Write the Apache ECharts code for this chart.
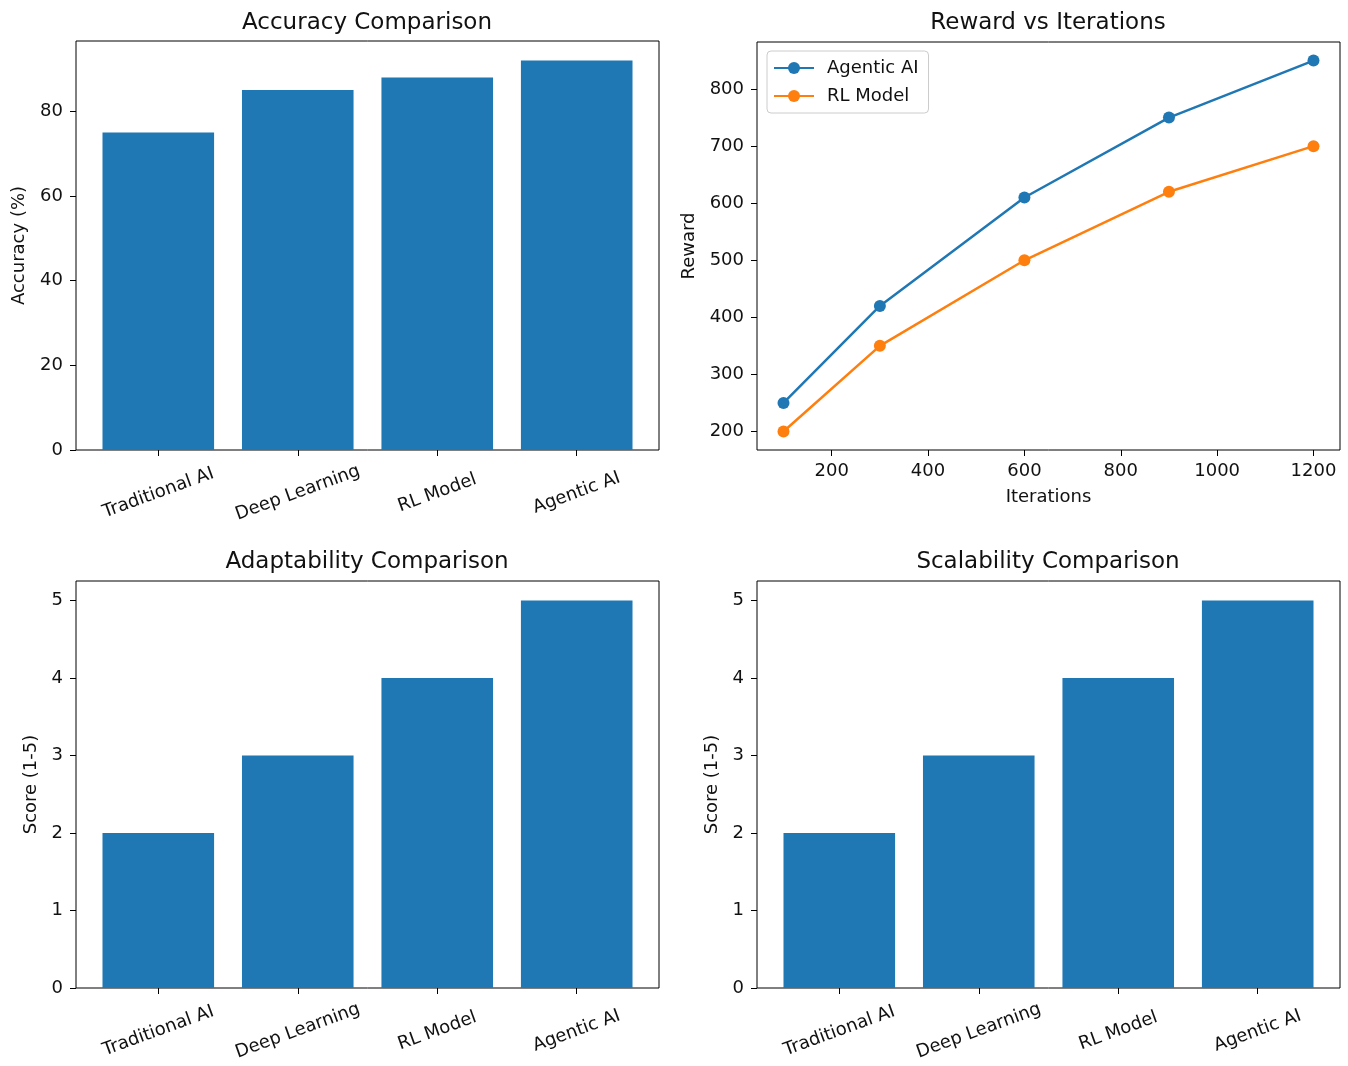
<!DOCTYPE html>
<html><head><meta charset="utf-8">
<script src="https://cdn.jsdelivr.net/npm/echarts@6/dist/echarts.min.js"></script>
<style>html,body{margin:0;padding:0;background:#fff}#c{width:1348px;height:1066px}</style>
</head><body><div id="c"></div>
<script>
// ---- data ----
const categories = ['Traditional AI', 'Deep Learning', 'RL Model', 'Agentic AI'];
const accuracy = [75, 85, 88, 92];
const adaptability = [2, 3, 4, 5];
const scalability = [2, 3, 4, 5];
const iterations = [100, 300, 600, 900, 1200];
const rewardAgentic = [250, 420, 610, 750, 850];
const rewardRL = [200, 350, 500, 620, 700];
const accuracyTicks = [0, 20, 40, 60, 80];
const scoreTicks = [0, 1, 2, 3, 4, 5];
const iterTicks = [200, 400, 600, 800, 1000, 1200];
const rewardTicks = [200, 300, 400, 500, 600, 700, 800];
const catTicks = categories.map((c, i) => i);

// ---- styles ----
const FONT = 'DejaVu Sans';
const BLUE = '#1f77b4', ORANGE = '#ff7f0e';
const TXT = '#111111';
const tickFont = 18;

const grids = [
  {left: 76, top: 41, width: 583, height: 409},
  {left: 757, top: 42, width: 583, height: 408},
  {left: 76, top: 581, width: 583, height: 407},
  {left: 757, top: 581, width: 583, height: 407}
].map(g => Object.assign(g, {show: true, borderColor: '#000', borderWidth: 1, backgroundColor: '#fff'}));

function pad(lo, hi) { const m = (hi - lo) * 0.05; return [lo - m, hi + m]; }

const tickStyle = {show: true, length: 6, inside: false, lineStyle: {color: '#000', width: 1}};
const plain = v => String(Math.round(v * 1000) / 1000);

function valueAxisY(gi, min, max, ticks, name, gap) {
  return {
    gridIndex: gi, type: 'value', min: min, max: max,
    axisLine: {show: false, onZero: false}, splitLine: {show: false},
    axisTick: Object.assign({customValues: ticks}, tickStyle),
    axisLabel: {customValues: ticks, formatter: plain, fontFamily: FONT, fontSize: tickFont, color: TXT, margin: 13},
    name: name, nameLocation: 'middle', nameGap: gap,
    nameTextStyle: {fontFamily: FONT, fontSize: tickFont, color: TXT}
  };
}
function catAxisX(gi) {
  const ext = pad(-0.4, categories.length - 1 + 0.4);
  return {
    gridIndex: gi, type: 'value', min: ext[0], max: ext[1],
    axisLine: {show: false, onZero: false}, splitLine: {show: false},
    axisTick: Object.assign({customValues: catTicks}, tickStyle),
    axisLabel: {customValues: catTicks, formatter: v => categories[Math.round(v)] || '',
      rotate: 20, align: 'center', verticalAlign: 'middle', margin: 43,
      fontFamily: FONT, fontSize: tickFont, color: TXT}
  };
}
function barSeries(gi, values) {
  return {type: 'bar', xAxisIndex: gi, yAxisIndex: gi,
    data: values.map((v, i) => [i, v]), barCategoryGap: '20%',
    itemStyle: {color: BLUE}, silent: true};
}

const accExt = [0, Math.max(...accuracy) * 1.05];
const adaExt = [0, Math.max(...adaptability) * 1.05];
const scaExt = [0, Math.max(...scalability) * 1.05];
const iterExt = pad(Math.min(...iterations), Math.max(...iterations));
const rewExt = pad(Math.min(...rewardRL, ...rewardAgentic), Math.max(...rewardRL, ...rewardAgentic));

const titleStyle = {fontFamily: FONT, fontSize: 23, fontWeight: 'normal', color: TXT};

const option = {
  animation: false,
  backgroundColor: '#fff',
  title: [
    {text: 'Accuracy Comparison', left: 367, top: 12, padding: 0, textAlign: 'center', textStyle: titleStyle},
    {text: 'Reward vs Iterations', left: 1048, top: 12, padding: 0, textAlign: 'center', textStyle: titleStyle},
    {text: 'Adaptability Comparison', left: 367, top: 551, padding: 0, textAlign: 'center', textStyle: titleStyle},
    {text: 'Scalability Comparison', left: 1048, top: 551, padding: 0, textAlign: 'center', textStyle: titleStyle}
  ],
  grid: grids,
  legend: {
    left: 767, top: 51, orient: 'vertical',
    data: ['Agentic AI', 'RL Model'],
    itemWidth: 40, itemHeight: 15, itemGap: 10,
    padding: [8, 10, 8, 6],
    borderColor: '#cccccc', borderWidth: 1, borderRadius: 4,
    backgroundColor: 'rgba(255,255,255,0.8)',
    textStyle: {fontFamily: FONT, fontSize: tickFont, color: TXT, padding: [0, 0, 0, 8]}
  },
  xAxis: [
    catAxisX(0),
    {
      gridIndex: 1, type: 'value', min: iterExt[0], max: iterExt[1],
      axisLine: {show: false, onZero: false}, splitLine: {show: false},
      axisTick: Object.assign({customValues: iterTicks}, tickStyle),
      axisLabel: {customValues: iterTicks, formatter: plain, fontFamily: FONT, fontSize: tickFont, color: TXT, margin: 12},
      name: 'Iterations', nameLocation: 'middle', nameGap: 38,
      nameTextStyle: {fontFamily: FONT, fontSize: tickFont, color: TXT}
    },
    catAxisX(2),
    catAxisX(3)
  ],
  yAxis: [
    valueAxisY(0, accExt[0], accExt[1], accuracyTicks, 'Accuracy (%)', 48),
    valueAxisY(1, rewExt[0], rewExt[1], rewardTicks, 'Reward', 59),
    valueAxisY(2, adaExt[0], adaExt[1], scoreTicks, 'Score (1-5)', 36),
    valueAxisY(3, scaExt[0], scaExt[1], scoreTicks, 'Score (1-5)', 36)
  ],
  series: [
    barSeries(0, accuracy),
    {type: 'line', name: 'Agentic AI', xAxisIndex: 1, yAxisIndex: 1,
      data: iterations.map((x, i) => [x, rewardAgentic[i]]),
      symbol: 'circle', symbolSize: 12, color: BLUE,
      lineStyle: {width: 2.5, color: BLUE}, itemStyle: {color: BLUE}},
    {type: 'line', name: 'RL Model', xAxisIndex: 1, yAxisIndex: 1,
      data: iterations.map((x, i) => [x, rewardRL[i]]),
      symbol: 'circle', symbolSize: 12, color: ORANGE,
      lineStyle: {width: 2.5, color: ORANGE}, itemStyle: {color: ORANGE}},
    barSeries(2, adaptability),
    barSeries(3, scalability)
  ]
};

const chart = echarts.init(document.getElementById('c'), null, {renderer: 'canvas'});
chart.setOption(option);
</script>
</body></html>
